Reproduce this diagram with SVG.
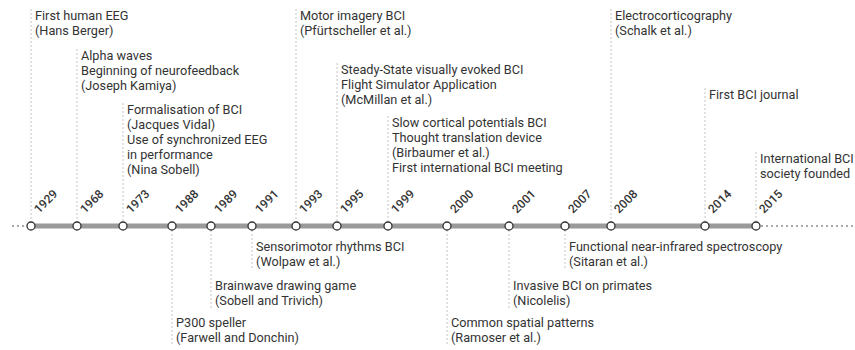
<svg xmlns="http://www.w3.org/2000/svg" width="855" height="350" viewBox="0 0 855 350">
<style>
.t{font-family:Roboto,"Liberation Sans",sans-serif;font-size:12.7px;fill:#333}
.y{font-family:Roboto,"Liberation Sans",sans-serif;font-size:12px;font-weight:500;fill:#333}
.lead{stroke:#c4c4c4;stroke-width:1;stroke-dasharray:2 2;fill:none}
.dot{stroke:#aaa;stroke-width:2;stroke-dasharray:2 3;fill:none}
.n{fill:#fff;stroke:#333;stroke-width:1.3}
</style>
<rect width="855" height="350" fill="#fff"/>
<g id="connectors">
<line class="dot" x1="12" y1="226" x2="28" y2="226"/>
<line class="dot" x1="761" y1="226" x2="855" y2="226"/>
<rect x="31" y="223.5" width="725" height="5" fill="#9a9a9a"/>
<line class="lead" x1="31" y1="9" x2="31" y2="222"/>
<line class="lead" x1="77" y1="49" x2="77" y2="222"/>
<line class="lead" x1="123" y1="103" x2="123" y2="222"/>
<line class="lead" x1="172" y1="230" x2="172" y2="346"/>
<line class="lead" x1="211" y1="230" x2="211" y2="308"/>
<line class="lead" x1="252" y1="230" x2="252" y2="269"/>
<line class="lead" x1="296" y1="9" x2="296" y2="222"/>
<line class="lead" x1="337" y1="63" x2="337" y2="222"/>
<line class="lead" x1="388" y1="116" x2="388" y2="222"/>
<line class="lead" x1="447" y1="230" x2="447" y2="346"/>
<line class="lead" x1="509" y1="230" x2="509" y2="308"/>
<line class="lead" x1="565" y1="230" x2="565" y2="269"/>
<line class="lead" x1="611" y1="9" x2="611" y2="222"/>
<line class="lead" x1="705" y1="88" x2="705" y2="222"/>
<line class="lead" x1="756" y1="152" x2="756" y2="222"/>
</g>
<g id="e1929"><circle class="n" cx="31" cy="226" r="4"/><text class="y" transform="translate(39 214) rotate(-45)">1929</text>
<text class="t" x="35" y="20">First human EEG<tspan x="35" dy="15">(Hans Berger)</tspan></text></g>
<g id="e1968"><circle class="n" cx="77" cy="226" r="4"/><text class="y" transform="translate(85 214) rotate(-45)">1968</text>
<text class="t" x="81" y="60">Alpha waves<tspan x="81" dy="15">Beginning of neurofeedback</tspan><tspan x="81" dy="15">(Joseph Kamiya)</tspan></text></g>
<g id="e1973"><circle class="n" cx="123" cy="226" r="4"/><text class="y" transform="translate(131 214) rotate(-45)">1973</text>
<text class="t" x="127" y="114">Formalisation of BCI<tspan x="127" dy="15">(Jacques Vidal)</tspan><tspan x="127" dy="15">Use of synchronized EEG</tspan><tspan x="127" dy="15">in performance</tspan><tspan x="127" dy="15">(Nina Sobell)</tspan></text></g>
<g id="e1988"><circle class="n" cx="172" cy="226" r="4"/><text class="y" transform="translate(180 214) rotate(-45)">1988</text>
<text class="t" x="176" y="327">P300 speller<tspan x="176" dy="15">(Farwell and Donchin)</tspan></text></g>
<g id="e1989"><circle class="n" cx="211" cy="226" r="4"/><text class="y" transform="translate(219 214) rotate(-45)">1989</text>
<text class="t" x="215" y="290">Brainwave drawing game<tspan x="215" dy="15">(Sobell and Trivich)</tspan></text></g>
<g id="e1991"><circle class="n" cx="252" cy="226" r="4"/><text class="y" transform="translate(260 214) rotate(-45)">1991</text>
<text class="t" x="256" y="251">Sensorimotor rhythms BCI<tspan x="256" dy="15">(Wolpaw et al.)</tspan></text></g>
<g id="e1993"><circle class="n" cx="296" cy="226" r="4"/><text class="y" transform="translate(304 214) rotate(-45)">1993</text>
<text class="t" x="300" y="20">Motor imagery BCI<tspan x="300" dy="15">(Pfürtscheller et al.)</tspan></text></g>
<g id="e1995"><circle class="n" cx="337" cy="226" r="4"/><text class="y" transform="translate(345 214) rotate(-45)">1995</text>
<text class="t" x="341" y="74">Steady-State visually evoked BCI<tspan x="341" dy="15">Flight Simulator Application</tspan><tspan x="341" dy="15">(McMillan et al.)</tspan></text></g>
<g id="e1999"><circle class="n" cx="388" cy="226" r="4"/><text class="y" transform="translate(396 214) rotate(-45)">1999</text>
<text class="t" x="392" y="127">Slow cortical potentials BCI<tspan x="392" dy="15">Thought translation device</tspan><tspan x="392" dy="15">(Birbaumer et al.)</tspan><tspan x="392" dy="15">First international BCI meeting</tspan></text></g>
<g id="e2000"><circle class="n" cx="447" cy="226" r="4"/><text class="y" transform="translate(455 214) rotate(-45)">2000</text>
<text class="t" x="451" y="327">Common spatial patterns<tspan x="451" dy="15">(Ramoser et al.)</tspan></text></g>
<g id="e2001"><circle class="n" cx="509" cy="226" r="4"/><text class="y" transform="translate(517 214) rotate(-45)">2001</text>
<text class="t" x="513" y="290">Invasive BCI on primates<tspan x="513" dy="15">(Nicolelis)</tspan></text></g>
<g id="e2007"><circle class="n" cx="565" cy="226" r="4"/><text class="y" transform="translate(573 214) rotate(-45)">2007</text>
<text class="t" x="569" y="251">Functional near-infrared spectroscopy<tspan x="569" dy="15">(Sitaran et al.)</tspan></text></g>
<g id="e2008"><circle class="n" cx="611" cy="226" r="4"/><text class="y" transform="translate(619 214) rotate(-45)">2008</text>
<text class="t" x="615" y="20">Electrocorticography<tspan x="615" dy="15">(Schalk et al.)</tspan></text></g>
<g id="e2014"><circle class="n" cx="705" cy="226" r="4"/><text class="y" transform="translate(713 214) rotate(-45)">2014</text>
<text class="t" x="709" y="99">First BCI journal</text></g>
<g id="e2015"><circle class="n" cx="756" cy="226" r="4"/><text class="y" transform="translate(764 214) rotate(-45)">2015</text>
<text class="t" x="760" y="163">International BCI<tspan x="760" dy="15">society founded</tspan></text></g>
</svg>
